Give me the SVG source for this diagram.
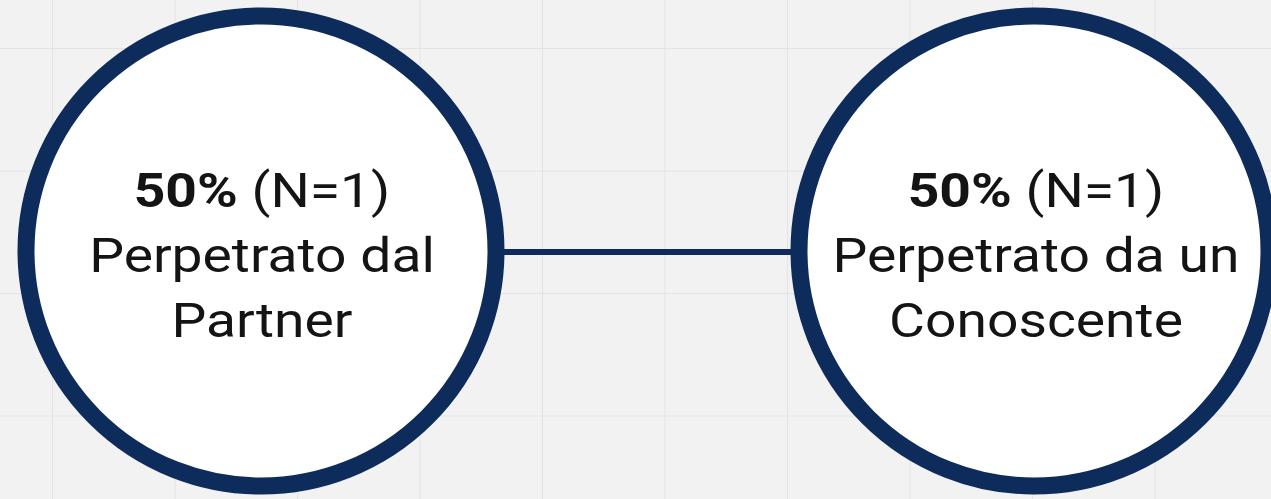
<svg xmlns="http://www.w3.org/2000/svg" width="1271" height="499" viewBox="0 0 1271 499">
<defs>
<pattern id="grid" x="52" y="48" width="122.5" height="122.5" patternUnits="userSpaceOnUse">
<path d="M0 0 V122.5 M0 0 H122.5" fill="none" stroke="#e3e3e3" stroke-width="2"/>
</pattern>
</defs>
<style>
.node{fill:#ffffff;stroke:#0d2b5b;stroke-width:17}
.conn{stroke:#0d2b5b;stroke-width:6;fill:none}
.t{font-family:Roboto,"Liberation Sans",sans-serif;font-size:48px;fill:#141414;text-anchor:middle}
.b{font-weight:bold}
</style>
<rect width="1271" height="499" fill="#f2f2f2"/>
<rect width="1271" height="499" fill="url(#grid)"/>
<g id="connectors">
<line class="conn" x1="500" y1="252" x2="798" y2="252"/>
</g>
<g id="node-partner">
<circle class="node" cx="261" cy="251" r="235"/>
<g transform="translate(262,0) scale(1.15,1)">
<text class="t" x="0" y="207"><tspan class="b">50%</tspan> (N=1)</text>
<text class="t" x="0" y="272">Perpetrato dal</text>
<text class="t" x="0" y="337">Partner</text>
</g>
</g>
<g id="node-conoscente">
<circle class="node" cx="1034" cy="251" r="235"/>
<g transform="translate(1036,0) scale(1.15,1)">
<text class="t" x="0" y="207"><tspan class="b">50%</tspan> (N=1)</text>
<text class="t" x="0" y="272">Perpetrato da un</text>
<text class="t" x="0" y="337">Conoscente</text>
</g>
</g>
</svg>
